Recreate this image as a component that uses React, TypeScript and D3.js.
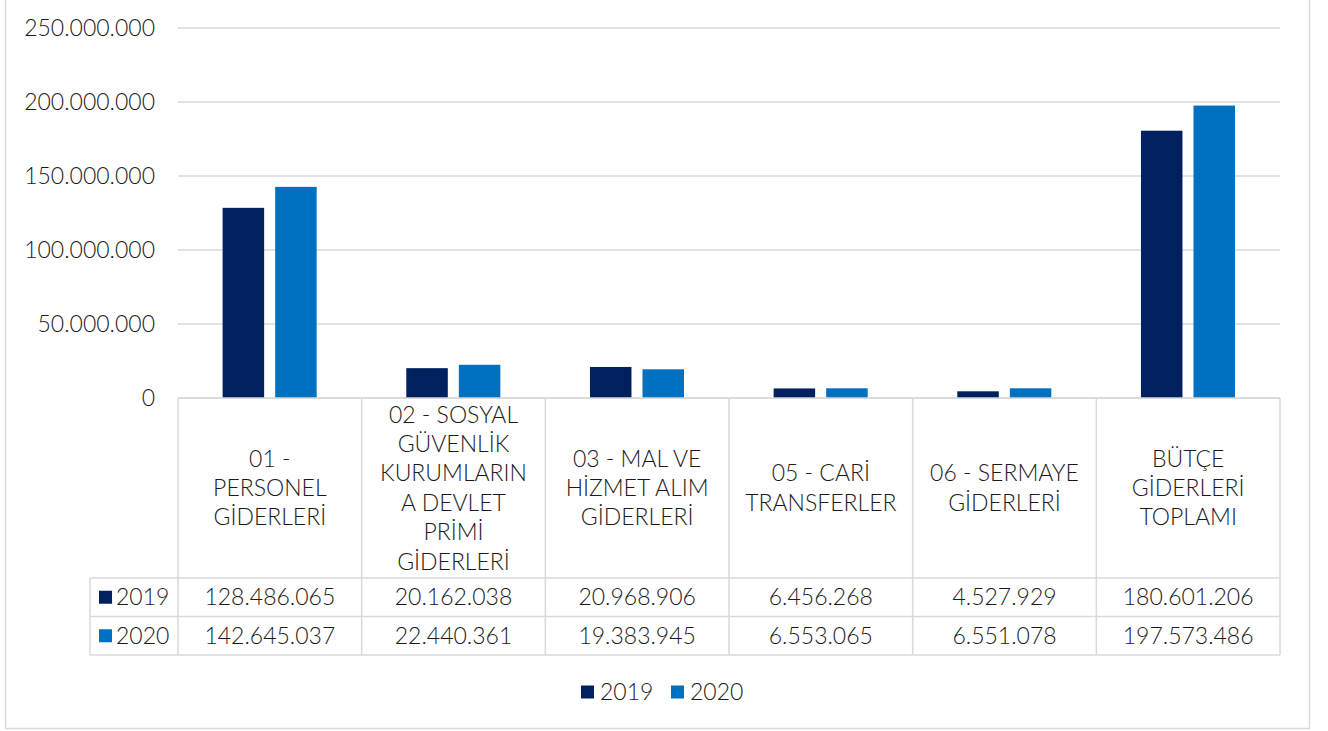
import { useEffect, useRef } from "react";
import * as d3 from "d3";

// chart data
const categories = [
  "01 - PERSONEL GİDERLERİ",
  "02 - SOSYAL GÜVENLİK KURUMLARINA DEVLET PRİMİ GİDERLERİ",
  "03 - MAL VE HİZMET ALIM GİDERLERİ",
  "05 - CARİ TRANSFERLER",
  "06 - SERMAYE GİDERLERİ",
  "BÜTÇE GİDERLERİ TOPLAMI",
];
// wrapped header lines, as shown in the table
const categoryLines = [
  ["01 -", "PERSONEL", "GİDERLERİ"],
  ["02 - SOSYAL", "GÜVENLİK", "KURUMLARIN", "A DEVLET", "PRİMİ", "GİDERLERİ"],
  ["03 - MAL VE", "HİZMET ALIM", "GİDERLERİ"],
  ["05 - CARİ", "TRANSFERLER"],
  ["06 - SERMAYE", "GİDERLERİ"],
  ["BÜTÇE", "GİDERLERİ", "TOPLAMI"],
];
const series = ["2019", "2020"];
const values2019 = [128486065, 20162038, 20968906, 6456268, 4527929, 180601206];
const values2020 = [142645037, 22440361, 19383945, 6553065, 6551078, 197573486];
const yTicks = [0, 50000000, 100000000, 150000000, 200000000, 250000000];
const colors = ["#002060", "#0070C0"];

function App() {
  const ref = useRef<SVGSVGElement>(null);

  useEffect(() => {
    const W = 1328,
      H = 731;
    const margin = { top: 28, left: 178, right: 48 };
    const plotBottom = 398;
    const headerH = 180;
    const rowH = 38.5;
    const legendColX = 90;
    const font = "Lato, 'DejaVu Sans', sans-serif";
    const fontSize = "23px";
    const fontWeight = 300;
    const textColor = "#1a1a1a";
    const lineColor = "#d9d9d9";

    const svg = d3.select(ref.current);
    svg.selectAll("*").remove();
    svg.attr("width", W).attr("height", H);

    const locale = d3.formatLocale({
      decimal: ",",
      thousands: ".",
      grouping: [3],
      currency: ["", ""],
    });
    const fmt = locale.format(",d");

    const styleText = (sel: any) =>
      sel
        .style("font-family", font)
        .style("font-size", fontSize)
        .style("font-weight", fontWeight)
        .attr("fill", textColor);

    // outer chart border
    svg
      .append("rect")
      .attr("x", 5.5)
      .attr("y", -2)
      .attr("width", 1304)
      .attr("height", 730.5)
      .attr("fill", "#fff")
      .attr("stroke", lineColor)
      .attr("stroke-width", 1.5);

    const x0 = d3
      .scaleBand<string>()
      .domain(categories)
      .range([margin.left, W - margin.right]);
    const bw = x0.bandwidth();
    const x1 = d3
      .scaleBand<string>()
      .domain(series)
      .range([bw * 0.243, bw * 0.755])
      .paddingInner(0.21);
    const y = d3
      .scaleLinear()
      .domain([0, 250000000])
      .range([plotBottom, margin.top]);

    // gridlines
    svg
      .append("g")
      .selectAll("line")
      .data(yTicks)
      .join("line")
      .attr("x1", margin.left)
      .attr("x2", W - margin.right)
      .attr("y1", (d) => y(d))
      .attr("y2", (d) => y(d))
      .attr("stroke", lineColor)
      .attr("stroke-width", 1.5);

    // y tick labels
    svg
      .append("g")
      .selectAll("text")
      .data(yTicks)
      .join("text")
      .attr("x", 155)
      .attr("y", (d) => y(d))
      .attr("dy", "0.35em")
      .attr("text-anchor", "end")
      .call(styleText)
      .text((d) => fmt(d));

    // bars
    const allValues = [values2019, values2020];
    series.forEach((s, si) => {
      svg
        .append("g")
        .selectAll("rect")
        .data(allValues[si])
        .join("rect")
        .attr("x", (_, i) => x0(categories[i])! + x1(s)!)
        .attr("y", (d) => y(d))
        .attr("width", x1.bandwidth())
        .attr("height", (d) => plotBottom - y(d))
        .attr("fill", colors[si]);
    });

    // data table
    const tableTop = plotBottom;
    const rowsTop = tableTop + headerH;
    const tableBottom = rowsTop + rowH * series.length;
    const table = svg.append("g");

    // horizontal lines
    table
      .append("line")
      .attr("x1", margin.left)
      .attr("x2", W - margin.right)
      .attr("y1", tableTop)
      .attr("y2", tableTop);
    [0, 1, 2].forEach((r) => {
      table
        .append("line")
        .attr("x1", legendColX)
        .attr("x2", W - margin.right)
        .attr("y1", rowsTop + r * rowH)
        .attr("y2", rowsTop + r * rowH);
    });
    // vertical lines
    table
      .append("line")
      .attr("x1", legendColX)
      .attr("x2", legendColX)
      .attr("y1", rowsTop)
      .attr("y2", tableBottom);
    categories.forEach((c) => {
      table
        .append("line")
        .attr("x1", x0(c)!)
        .attr("x2", x0(c)!)
        .attr("y1", tableTop)
        .attr("y2", tableBottom);
    });
    table
      .append("line")
      .attr("x1", W - margin.right)
      .attr("x2", W - margin.right)
      .attr("y1", tableTop)
      .attr("y2", tableBottom);
    table.selectAll("line").attr("stroke", lineColor).attr("stroke-width", 1.5);

    // header labels
    const lineH = 29.4;
    categories.forEach((c, i) => {
      const lines = categoryLines[i];
      const cy = tableTop + headerH / 2;
      const start = cy - ((lines.length - 1) * lineH) / 2;
      const t = table
        .append("text")
        .attr("text-anchor", "middle")
        .call(styleText);
      lines.forEach((ln, li) => {
        t.append("tspan")
          .attr("x", x0(c)! + bw / 2)
          .attr("y", start + li * lineH)
          .attr("dy", "0.35em")
          .text(ln);
      });
    });

    // rows
    series.forEach((s, si) => {
      const cy = rowsTop + rowH * si + rowH / 2;
      table
        .append("rect")
        .attr("x", 99)
        .attr("y", cy - 6.5)
        .attr("width", 13)
        .attr("height", 13)
        .attr("fill", colors[si]);
      table
        .append("text")
        .attr("x", 116)
        .attr("y", cy)
        .attr("dy", "0.35em")
        .call(styleText)
        .text(s);
      allValues[si].forEach((v, i) => {
        table
          .append("text")
          .attr("x", x0(categories[i])! + bw / 2)
          .attr("y", cy)
          .attr("dy", "0.35em")
          .attr("text-anchor", "middle")
          .call(styleText)
          .text(fmt(v));
      });
    });

    // legend
    const legend = svg.append("g").attr("transform", "translate(581, 692)");
    const legendStep = 90;
    series.forEach((s, si) => {
      legend
        .append("rect")
        .attr("x", si * legendStep)
        .attr("y", -6.5)
        .attr("width", 13)
        .attr("height", 13)
        .attr("fill", colors[si]);
      legend
        .append("text")
        .attr("x", si * legendStep + 19)
        .attr("y", 0)
        .attr("dy", "0.35em")
        .call(styleText)
        .text(s);
    });
  }, []);

  return (
    <svg
      ref={ref}
      style={{ position: "absolute", left: 0, top: 0, display: "block" }}
    ></svg>
  );
}

export default App;
